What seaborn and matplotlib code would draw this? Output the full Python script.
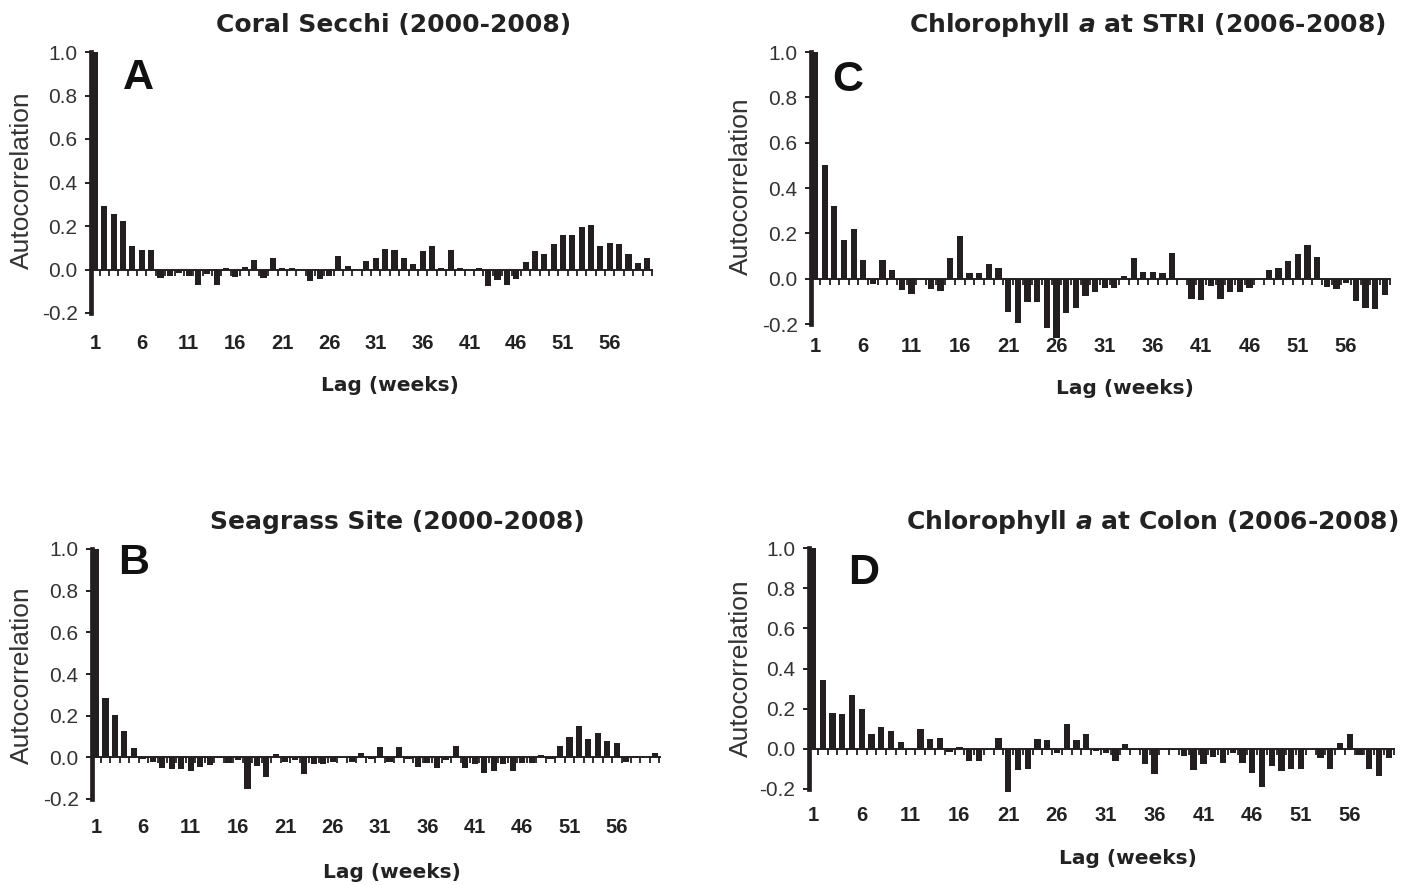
import numpy as np
import matplotlib
matplotlib.use("Agg")
import matplotlib.pyplot as plt
import seaborn as sns

sns.set_style("ticks")
plt.rcParams["font.family"] = ["Liberation Sans", "DejaVu Sans"]
plt.rcParams["axes.unicode_minus"] = False

# Lags 1..60 (weeks)
lags = np.arange(1, 61)

# Autocorrelation values
coral_secchi = [1.0, 0.29, 0.255, 0.225, 0.11, 0.09, 0.089, -0.037, -0.03, -0.015,
                -0.03, -0.069, -0.02, -0.07, 0.005, -0.035, 0.012, 0.043, -0.038, 0.052,
                0.006, 0.006, 0.0, -0.052, -0.043, -0.028, 0.06, 0.017, 0.0, 0.037,
                0.052, 0.096, 0.089, 0.052, 0.026, 0.086, 0.11, 0.005, 0.089, 0.005,
                0.0, 0.005, -0.076, -0.049, -0.072, -0.044, 0.034, 0.086, 0.069, 0.116,
                0.157, 0.157, 0.196, 0.206, 0.11, 0.122, 0.116, 0.073, 0.028, 0.052]

seagrass = [1.0, 0.285, 0.204, 0.125, 0.043, -0.01, -0.024, -0.051, -0.058, -0.054,
            -0.064, -0.045, -0.035, -0.005, -0.027, -0.015, -0.152, -0.04, -0.096, 0.016,
            -0.024, -0.013, -0.08, -0.032, -0.032, -0.02, 0.0, -0.02, 0.019, -0.008,
            0.048, -0.024, 0.051, -0.01, -0.045, -0.026, -0.053, -0.013, 0.056, -0.051,
            -0.032, -0.077, -0.067, -0.032, -0.064, -0.029, -0.026, 0.013, -0.01, 0.056,
            0.096, 0.149, 0.088, 0.115, 0.077, 0.067, -0.02, 0.005, 0.0, 0.019]

chl_stri = [1.0, 0.5, 0.32, 0.171, 0.219, 0.082, -0.025, 0.082, 0.037, -0.048,
            -0.067, 0.0, -0.044, -0.053, 0.092, 0.187, 0.023, 0.023, 0.066, 0.048,
            -0.148, -0.197, -0.105, -0.105, -0.219, -0.26, -0.15, -0.13, -0.076, -0.058,
            -0.039, -0.039, 0.01, 0.089, 0.028, 0.031, 0.025, 0.113, -0.005, -0.088,
            -0.094, -0.034, -0.091, -0.061, -0.058, -0.042, 0.0, 0.039, 0.048, 0.08,
            0.108, 0.149, 0.096, -0.038, -0.047, -0.019, -0.099, -0.13, -0.136, -0.073]

chl_colon = [1.0, 0.345, 0.176, 0.171, 0.27, 0.2, 0.076, 0.109, 0.09, 0.035,
             0.003, 0.101, 0.05, 0.056, -0.015, 0.01, -0.06, -0.063, -0.005, 0.056,
             -0.216, -0.106, -0.1, 0.048, 0.046, -0.02, 0.123, 0.043, 0.073, -0.01,
             -0.02, -0.06, 0.022, -0.005, -0.076, -0.126, 0.0, -0.005, -0.036, -0.106,
             -0.076, -0.04, -0.07, -0.023, -0.07, -0.12, -0.192, -0.086, -0.109, -0.098,
             -0.098, 0.0, -0.048, -0.098, 0.03, 0.076, -0.03, -0.1, -0.136, -0.048]

xtick_pos = np.arange(1, 57, 5)
ytick_pos = [-0.2, 0.0, 0.2, 0.4, 0.6, 0.8, 1.0]
ytick_lab = ["-0.2", "0.0", "0.2", "0.4", "0.6", "0.8", "1.0"]

ink = "#231f20"
W, H = 1420, 885

# layout in pixels: axes (left, top, right, bottom), text positions
panels = [
    dict(vals=coral_secchi, title="Coral Secchi (2000-2008)", letter="A",
         rect=(90.8, 52, 652.4, 313), title_xy=(394, 25), letter_xy=(123, 58),
         ylab_xy=(22, 180), xlab_xy=(390, 386), pad=15),
    dict(vals=seagrass, title="Seagrass Site (2000-2008)", letter="B",
         rect=(91.7, 549, 659.9, 799), title_xy=(397, 522), letter_xy=(118, 543),
         ylab_xy=(22, 675), xlab_xy=(392, 873), pad=14),
    dict(vals=chl_stri, title=r"Chlorophyll $\bfit{a}$ at STRI (2006-2008)", letter="C",
         rect=(810.7, 52, 1390.0, 324), title_xy=(1147, 25), letter_xy=(832, 60),
         ylab_xy=(741, 186), xlab_xy=(1125, 389), pad=9),
    dict(vals=chl_colon, title=r"Chlorophyll $\bfit{a}$ at Colon (2006-2008)", letter="D",
         rect=(808.6, 548, 1394.2, 789), title_xy=(1152, 522), letter_xy=(848, 553),
         ylab_xy=(741, 668), xlab_xy=(1128, 859), pad=12),
]

fig = plt.figure(figsize=(W / 100, H / 100), dpi=100)

for p in panels:
    l, t, r, b = p["rect"]
    ax = fig.add_axes([l / W, 1 - b / H, (r - l) / W, (b - t) / H])
    sns.barplot(x=lags, y=p["vals"], ax=ax, native_scale=True, color=ink,
                saturation=1, width=0.65, errorbar=None, linewidth=0)
    for patch in ax.patches:
        patch.set_clip_on(False)
    ax.set_xlim(0.55, 60.55)
    ax.set_ylim(-0.2, 1.0)
    ax.set_xlabel("")
    ax.set_ylabel("")

    # zero line with small ticks between lags
    ax.spines[["top", "right"]].set_visible(False)
    ax.spines["bottom"].set_position(("data", 0))
    ax.spines["bottom"].set_linewidth(1.4)
    ax.spines["bottom"].set_color(ink)
    ax.spines["left"].set_linewidth(3.4)
    ax.spines["left"].set_color(ink)
    ax.set_xticks(np.arange(1.5, 60.6, 1))
    ax.tick_params(axis="x", direction="out", length=4.5, width=1.3,
                   labelbottom=False, color=ink)

    ax.set_yticks(ytick_pos, labels=ytick_lab,
                  family=["Liberation Sans Narrow", "Liberation Sans"])
    ax.tick_params(axis="y", length=4.5, width=1.4, pad=5, labelsize=15,
                   labelcolor="#333333", color=ink)

    # lag labels along the bottom
    sec = ax.secondary_xaxis("bottom")
    sec.spines["bottom"].set_visible(False)
    sec.set_xticks(xtick_pos, labels=[str(v) for v in xtick_pos],
                   fontweight="bold", fontsize=14.5, color="#222222")
    sec.tick_params(length=0, pad=p["pad"])

    ax.text((p["letter_xy"][0] - l) / (r - l), (b - p["letter_xy"][1]) / (b - t),
            p["letter"], transform=ax.transAxes, ha="left", va="top",
            fontsize=31, fontweight="bold", color="#111111")

    fig.text(p["title_xy"][0] / W, 1 - p["title_xy"][1] / H, p["title"],
             ha="center", va="center", fontsize=18, fontweight="bold",
             family="DejaVu Sans", color="#222222")
    fig.text(p["xlab_xy"][0] / W, 1 - p["xlab_xy"][1] / H, "Lag (weeks)",
             ha="center", va="center", fontsize=14.5, fontweight="bold",
             family="DejaVu Sans", color="#222222")
    fig.text(p["ylab_xy"][0] / W, 1 - p["ylab_xy"][1] / H, "Autocorrelation",
             ha="center", va="center", rotation=90, fontsize=19, color="#333333")

fig.savefig("out.png", dpi=100)
